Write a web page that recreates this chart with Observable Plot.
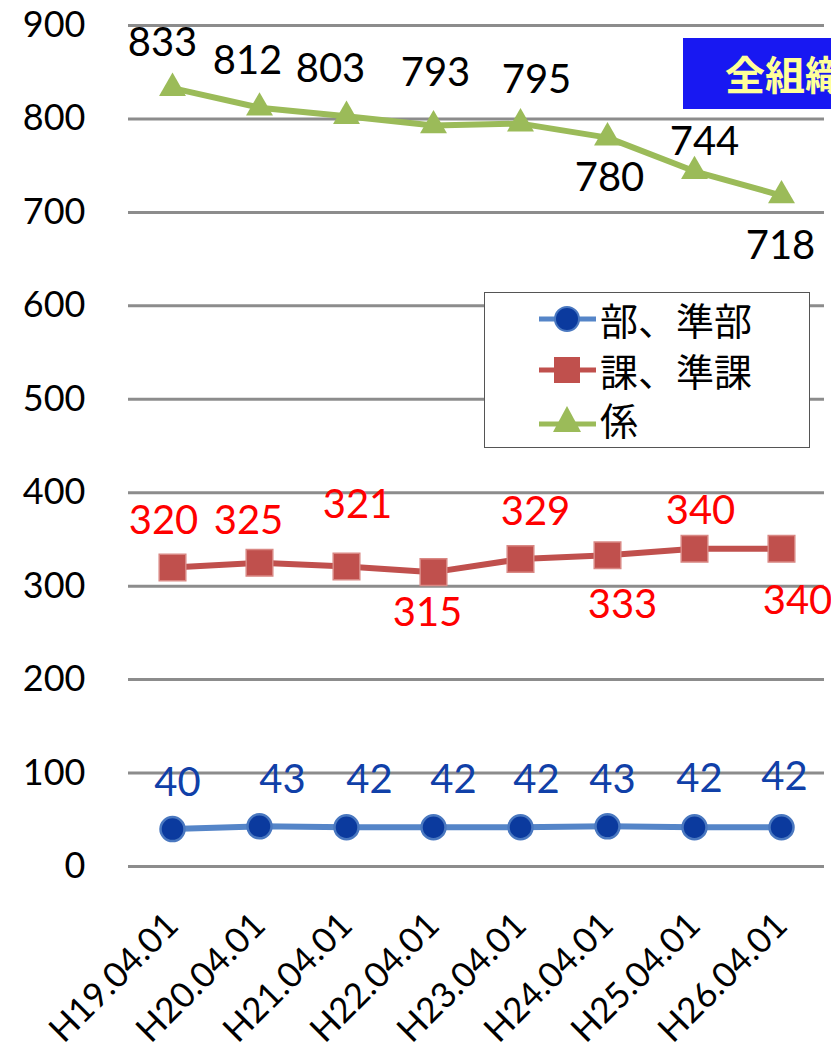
<!DOCTYPE html>
<html>
<head>
<meta charset="utf-8">
<script src="https://cdn.jsdelivr.net/npm/d3@7"></script>
<script src="https://cdn.jsdelivr.net/npm/@observablehq/plot@0.6"></script>
<style>
  html, body { margin: 0; padding: 0; background: #fff; overflow: hidden; }
  #wrap { position: relative; width: 831px; height: 1049px; overflow: hidden; }
  #wrap svg { display: block; }
  #badge { position: absolute; left: 683px; top: 38px; width: 148px; height: 71px; background: #1818f2;
    color: #ffff99; font-family: "Noto Sans CJK JP", sans-serif; font-weight: 700; font-size: 40px;
    line-height: 71px; padding-left: 42px; box-sizing: border-box; white-space: nowrap; overflow: hidden; }
  #legend { position: absolute; left: 484px; top: 292px; width: 326px; height: 156px; box-sizing: border-box;
    border: 1.5px solid #555; background: #fff; font-family: "Noto Sans CJK JP", sans-serif; font-size: 38px; color: #000; }
  .row { position: absolute; left: 54px; height: 48px; display: flex; align-items: center; line-height: 1; }
  .row span { line-height: 1; }
  .row svg { display: block; margin-right: 4px; }
</style>
</head>
<body>
<div id="wrap"></div>
<script>
const dates = ["H19.04.01","H20.04.01","H21.04.01","H22.04.01","H23.04.01","H24.04.01","H25.04.01","H26.04.01"];
const seriesNames = ["部、準部","課、準課","係"];
const buValues = [40,43,42,42,42,43,42,42];
const kaValues = [320,325,321,315,329,333,340,340];
const kakariValues = [833,812,803,793,795,780,744,718];
const yTicks = [0,100,200,300,400,500,600,700,800,900];
const badgeText = "全組織";

const colors = {
  bu: {line: "#5585c8", fill: "#0b3a9e", text: "#1040a8"},
  ka: {line: "#c0504d", fill: "#c0504d", text: "#ff0000"},
  kakari: {line: "#9bbb59", fill: "#9bbb59", text: "#000000"}
};

// label offsets (style: where each value label sits relative to its point)
const kakariOff = [[-10,-45],[-12,-47],[-16,-47],[2,-52],[16,-43],[2,41],[10,-29],[-1,51]];
const kaOff = [[-9,-46],[-11,-42],[11,-61],[-6,41],[15,-47],[15,50],[6,-38],[16,52]];
const buOff = [[5,-46],[23,-46],[23,-47],[20,-47],[16,-47],[5,-46],[5,-48],[3,-50]];

const mk = (vals) => dates.map((d, i) => ({date: d, value: vals[i], i}));
const bu = mk(buValues), ka = mk(kaValues), kakari = mk(kakariValues);

function labels(data, off, color) {
  return data.map((d, i) => Plot.text([d], {
    x: "date", y: "value", text: (v) => String(v.value),
    dx: off[i][0], dy: off[i][1], fill: color,
    fontSize: 40, fontFamily: "Lato, sans-serif"
  }));
}

const chart = Plot.plot({
  width: 831,
  height: 1049,
  marginLeft: 128,
  marginRight: 7,
  marginTop: 25,
  marginBottom: 183,
  style: {fontFamily: "Lato, sans-serif", background: "#fff", overflow: "visible"},
  x: {type: "point", domain: dates, padding: 0.5},
  y: {domain: [0, 900]},
  marks: [
    Plot.ruleY(yTicks, {stroke: "#8c8c8c", strokeWidth: 3}),
    Plot.ruleX([dates[0]], {x: () => null, frameAnchor: "left", y1: 0, y2: 900, stroke: "#8c8c8c", strokeWidth: 3}),
    Plot.axisY({ticks: yTicks, tickSize: 0, tickPadding: 43, fontSize: 36, fill: "#000", label: null}),
    Plot.axisX({tickSize: 0, tickPadding: 53, tickRotate: -45, textAnchor: "end", lineAnchor: "middle", fontSize: 35, fill: "#000", label: null}),
    Plot.line(bu, {x: "date", y: "value", stroke: colors.bu.line, strokeWidth: 6}),
    Plot.line(ka, {x: "date", y: "value", stroke: colors.ka.line, strokeWidth: 6}),
    Plot.line(kakari, {x: "date", y: "value", stroke: colors.kakari.line, strokeWidth: 6}),
    Plot.dot(bu, {x: "date", y: "value", r: 12, fill: colors.bu.fill, stroke: "#4a78c0", strokeWidth: 2.5, symbol: "circle"}),
    Plot.dot(ka, {x: "date", y: "value", r: 15, fill: colors.ka.fill, stroke: "#d98884", strokeWidth: 1.5, symbol: "square"}),
    Plot.dot(kakari, {x: "date", y: "value", r: 10, fill: colors.kakari.fill, symbol: "triangle"}),
    ...labels(kakari, kakariOff, colors.kakari.text),
    ...labels(ka, kaOff, colors.ka.text),
    ...labels(bu, buOff, colors.bu.text)
  ]
});

const wrap = document.getElementById("wrap");
wrap.appendChild(chart);

// Badge (title box)
const badge = document.createElement("div");
badge.id = "badge";
badge.textContent = badgeText;
wrap.appendChild(badge);

// Legend
const legend = document.createElement("div");
legend.id = "legend";
const symbols = [
  `<svg width="57" height="30"><line x1="0" y1="15" x2="57" y2="15" stroke="${colors.bu.line}" stroke-width="5"/><circle cx="28" cy="15" r="12" fill="${colors.bu.fill}" stroke="#4a78c0" stroke-width="2"/></svg>`,
  `<svg width="57" height="30"><line x1="0" y1="15" x2="57" y2="15" stroke="${colors.ka.line}" stroke-width="5"/><rect x="15" y="2" width="26" height="26" fill="${colors.ka.fill}"/></svg>`,
  `<svg width="57" height="30"><line x1="0" y1="20" x2="57" y2="20" stroke="${colors.kakari.line}" stroke-width="5"/><path d="M28,2 L42,28 L14,28 Z" fill="${colors.kakari.fill}"/></svg>`
];
const rowTops = [2, 53, 102];
seriesNames.forEach((name, i) => {
  const row = document.createElement("div");
  row.className = "row";
  row.style.top = rowTops[i] + "px";
  row.innerHTML = symbols[i] + `<span>${name}</span>`;
  legend.appendChild(row);
});
wrap.appendChild(legend);
</script>
</body>
</html>
